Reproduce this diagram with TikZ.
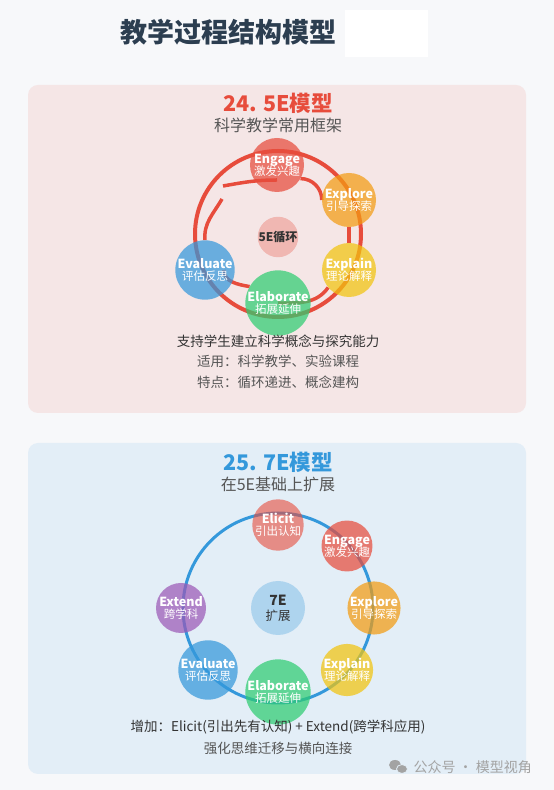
\documentclass[tikz,border=0pt]{standalone}
\usepackage{fontspec}
\setmainfont{Noto Sans CJK SC}
\usepackage{xcolor}
\definecolor{pagebg}{HTML}{F7F8FA}
\definecolor{cardred}{HTML}{F5E6E6}
\definecolor{cardblue}{HTML}{E3EEF7}
\definecolor{titleslate}{HTML}{2C3E50}
\definecolor{accentred}{HTML}{E74C3C}
\definecolor{accentblue}{HTML}{3498DB}
\definecolor{stageorange}{HTML}{F39C12}
\definecolor{stageyellow}{HTML}{F1C40F}
\definecolor{stagegreen}{HTML}{2ECC71}
\definecolor{stagepurple}{HTML}{9B59B6}
\definecolor{textgrey}{HTML}{555555}
\definecolor{textdark}{HTML}{333333}
\definecolor{markgrey}{HTML}{A3A3A3}
\usepackage{tikz}
\usetikzlibrary{positioning, calc}
\pgfdeclarelayer{back}
\pgfdeclarelayer{mid}
\pgfsetlayers{back,mid,main}

\tikzset{
  stage/.style={circle, minimum size=54pt, inner sep=0pt, fill opacity=0.72, text opacity=1,
    text=white, align=center, font=\fontsize{12.5}{13}\selectfont\bfseries},
  stagesmall/.style={stage, minimum size=50pt},
  hub/.style={circle, inner sep=0pt, fill opacity=0.3, text opacity=1, text=textdark, align=center},
  cyclearc/.style={accentred, line width=3.5pt},
  headline/.style={font=\fontsize{21.5}{23}\selectfont\bfseries},
  subline/.style={text=textgrey, font=\fontsize{16}{18}\selectfont},
  noteline/.style={font=\fontsize{13.5}{15}\selectfont},
}
\newcommand{\zh}[1]{\\[-1pt]{\fontsize{11.5}{12.5}\selectfont\mdseries #1}}

\begin{document}
\begin{tikzpicture}[x=1pt, y=1pt]
    \useasboundingbox (0,0) rectangle (554,790);

    \begin{pgfonlayer}{back}
        \fill[pagebg] (0,0) rectangle (554,790);
        \fill[white] (345,733) rectangle (428,780);
        \fill[cardred, rounded corners=10pt] (28,377) rectangle (526,705);
        \fill[cardblue, rounded corners=10pt] (28,16) rectangle (526,347);
    \end{pgfonlayer}

    \node[text=titleslate, font=\fontsize{27}{30}\selectfont\bfseries] (title) at (228,758) {教学过程结构模型};

    % 5E model
    \node[headline, text=accentred] (head5) at (278,687) {24. 5E模型};
    \node[subline] (sub5) at (278,665) {科学教学常用框架};

    \coordinate (ring5) at (278,556);
    \node[hub, fill=accentred, minimum size=40pt, font=\fontsize{12}{13}\selectfont\bfseries] (hub5) at (278,553) {5E循环};
    \node[stage, fill=accentred] (engage5) at (277,625) {Engage\zh{激发兴趣}};
    \node[stage, fill=stageorange] (explore5) at (349,590) {Explore\zh{引导探索}};
    \node[stage, fill=stageyellow] (explain5) at (349,520) {Explain\zh{理论解释}};
    \node[stage, fill=stagegreen] (elaborate5) at (278,487) {Elaborate\zh{拓展延伸}};
    \node[stage, fill=accentblue] (evaluate5) at (205,520) {Evaluate\zh{评估反思}};
    \coordinate (bend5a) at (222,591);
    \coordinate (bend5b) at (223,604);

    \begin{pgfonlayer}{mid}
        \draw[accentred, line width=4pt] (ring5) circle[radius=83];
        \draw[cyclearc] (engage5.-30) to[out=0, in=90] (explore5.west);
        \draw[cyclearc] (explore5.south) -- (explain5.north);
        \draw[cyclearc] (explain5.220) to[out=235, in=0] (elaborate5.center);
        \draw[cyclearc] (elaborate5.150) to[out=170, in=270] ($(evaluate5.center)!0.63!(evaluate5.east)$);
        \draw[cyclearc] (evaluate5.north) to[out=95, in=240] (bend5a);
        \draw[cyclearc] (bend5b) to[out=10, in=180] ($(engage5.center)+(0,-15)$);
    \end{pgfonlayer}

    \node[noteline, text=textdark] (aim5) at (278,449) {支持学生建立科学概念与探究能力};
    \node[noteline, text=textgrey] (use5) at (278,429) {适用：科学教学、实验课程};
    \node[noteline, text=textgrey] (trait5) at (278,408) {特点：循环递进、概念建构};

    % 7E model
    \node[headline, text=accentblue] (head7) at (278,328) {25. 7E模型};
    \node[subline] (sub7) at (278,306) {在5E基础上扩展};

    \node[hub, fill=accentblue, minimum size=54pt, font=\fontsize{12.5}{15}\selectfont] (hub7) at (278,182) {{\fontsize{14}{15}\selectfont\bfseries 7E}\\扩展};
    \node[stagesmall, fill=accentred, fill opacity=0.6] (elicit7) at (278,265) {Elicit\zh{引出认知}};
    \node[stagesmall, fill=accentred] (engage7) at (347,244) {Engage\zh{激发兴趣}};
    \node[stagesmall, fill=stageorange] (explore7) at (374,182) {Explore\zh{引导探索}};
    \node[stagesmall, fill=stageyellow] (explain7) at (347,120) {Explain\zh{理论解释}};
    \node[stagesmall, fill=stagegreen] (elaborate7) at (278,98) {Elaborate\zh{拓展延伸}};
    \node[stagesmall, fill=accentblue] (evaluate7) at (208,120) {Evaluate\zh{评估反思}};
    \node[stagesmall, fill=stagepurple] (extend7) at (181,182) {Extend\zh{跨学科}};

    \begin{pgfonlayer}{mid}
        \draw[accentblue, line width=3pt] (hub7.center) circle[radius=95];
    \end{pgfonlayer}

    \node[noteline, text=textdark] (add7) at (278,63) {增加：Elicit(引出先有认知) + Extend(跨学科应用)};
    \node[noteline, text=textgrey] (gain7) at (278,42) {强化思维迁移与横向连接};

    % watermark
    \fill[markgrey] (395,25) ellipse[x radius=6, y radius=5];
    \fill[markgrey, draw=cardblue, line width=0.8pt] (402,21) ellipse[x radius=5.5, y radius=4.5];
    \node[text=markgrey, font=\fontsize{14}{16}\selectfont, anchor=west] (mark) at (410,23) {公众号 · 模型视角};
\end{tikzpicture}
\end{document}
